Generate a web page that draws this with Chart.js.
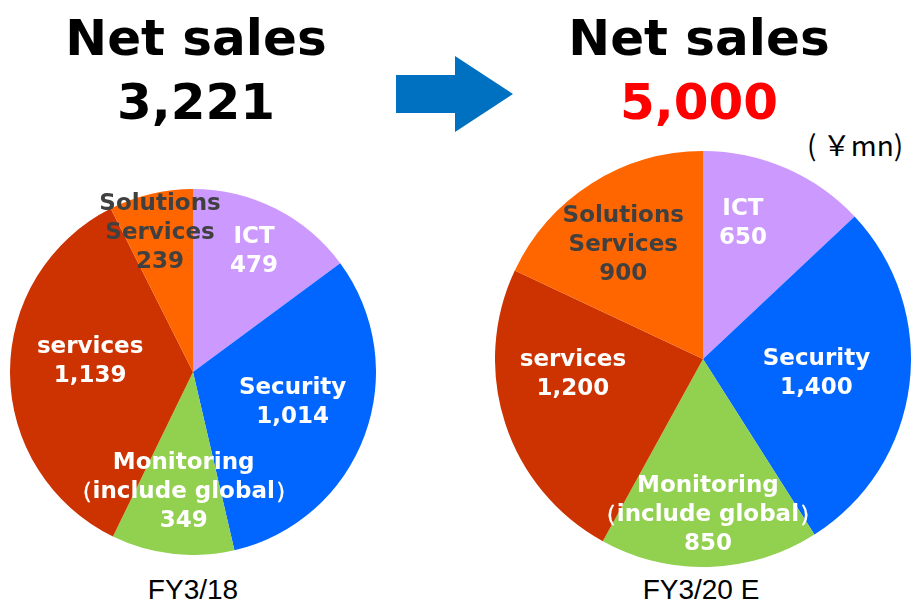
<!DOCTYPE html>
<html>
<head>
<meta charset="utf-8">
<script src="https://cdn.jsdelivr.net/npm/chart.js@4"></script>
<style>
    body { margin: 0; background: #fff; width: 914px; height: 608px; position: relative; overflow: hidden; font-family: "DejaVu Sans", sans-serif; }
    .title { position: absolute; width: 400px; text-align: center; font-weight: bold; font-size: 50px; line-height: 64px; }
    .fy { position: absolute; width: 300px; text-align: center; font-family: "Liberation Sans", Arial, sans-serif; font-size: 28px; }
    canvas { position: absolute; }
</style>
</head>
<body>
<div class="title" style="left:-4px; top:6px;">Net sales<br><span>3,221</span></div>
<div class="title" style="left:499px; top:6px;">Net sales<br><span style="color:#ff0000">5,000</span></div>
<svg style="position:absolute; left:0; top:0;" width="914" height="608">
    <polygon points="396,75 455,75 455,56 513,94 455,132 455,113 396,113" fill="#0070c0"/>
</svg>
<div style="position:absolute; left:807px; top:124px; font-size:28px; font-family:'Noto Sans CJK JP', sans-serif; white-space:pre;">( ￥mn)</div>
<canvas id="fy18" width="366" height="366" style="left:10px; top:189px;"></canvas>
<canvas id="fy20" width="416" height="416" style="left:495px; top:151px;"></canvas>
<div class="fy" style="left:43px; top:574px;">FY3/18</div>
<div class="fy" style="left:551px; top:574px;">FY3/20 E</div>

<script>
    const categories = [['ICT'], ['Security'], ['Monitoring', '（include global）'], ['services'], ['Solutions', 'Services']];
    const fy18Values = [479, 1014, 349, 1139, 239];
    const fy20Values = [650, 1400, 850, 1200, 900];
    const sliceColors = ['#cc99ff', '#0066ff', '#92d050', '#cc3300', '#ff6600'];
    const labelColors = ['#ffffff', '#ffffff', '#ffffff', '#ffffff', '#404040'];
    // label placement: fraction of radius, and angle shift (degrees) from slice middle
    const fy18LabelRadius = [0.74, 0.57, 0.66, 0.565, 0.78];
    const fy18LabelShift = [0, -3, -2, 6, 0];
    const fy20LabelRadius = [0.68, 0.55, 0.75, 0.63, 0.67];
    const fy20LabelShift = [-7, 0, 0, 11, -2.5];

    const sliceLabels = {
        id: 'sliceLabels',
        afterDatasetsDraw(chart, args, opts) {
            const ctx = chart.ctx;
            const meta = chart.getDatasetMeta(0);
            const values = chart.data.datasets[0].data;
            ctx.save();
            ctx.font = 'bold 23px "DejaVu Sans", sans-serif';
            ctx.textAlign = 'center';
            ctx.textBaseline = 'middle';
            meta.data.forEach(function(arc, i) {
                const p = arc.getProps(['x', 'y', 'startAngle', 'endAngle', 'outerRadius'], true);
                const mid = (p.startAngle + p.endAngle) / 2 + opts.shift[i] * Math.PI / 180;
                const r = p.outerRadius * opts.radius[i];
                const cx = p.x + Math.cos(mid) * r;
                const cy = p.y + Math.sin(mid) * r;
                const lines = categories[i].concat([values[i].toLocaleString('en-US')]);
                const top = cy - (lines.length - 1) * 29 / 2;
                ctx.fillStyle = labelColors[i];
                lines.forEach(function(line, j) {
                    ctx.fillText(line, cx, top + j * 29);
                });
            });
            ctx.restore();
        }
    };

    function makePie(id, values, radius, shift) {
        return new Chart(document.getElementById(id), {
            type: 'pie',
            data: {
                labels: categories.map(c => c.join(' ')),
                datasets: [{
                    data: values,
                    backgroundColor: sliceColors,
                    borderWidth: 0
                }]
            },
            options: {
                responsive: false,
                animation: false,
                layout: { padding: 0 },
                plugins: {
                    legend: { display: false },
                    tooltip: { enabled: false },
                    sliceLabels: { radius: radius, shift: shift }
                }
            },
            plugins: [sliceLabels]
        });
    }

    makePie('fy18', fy18Values, fy18LabelRadius, fy18LabelShift);
    makePie('fy20', fy20Values, fy20LabelRadius, fy20LabelShift);
</script>
</body>
</html>
